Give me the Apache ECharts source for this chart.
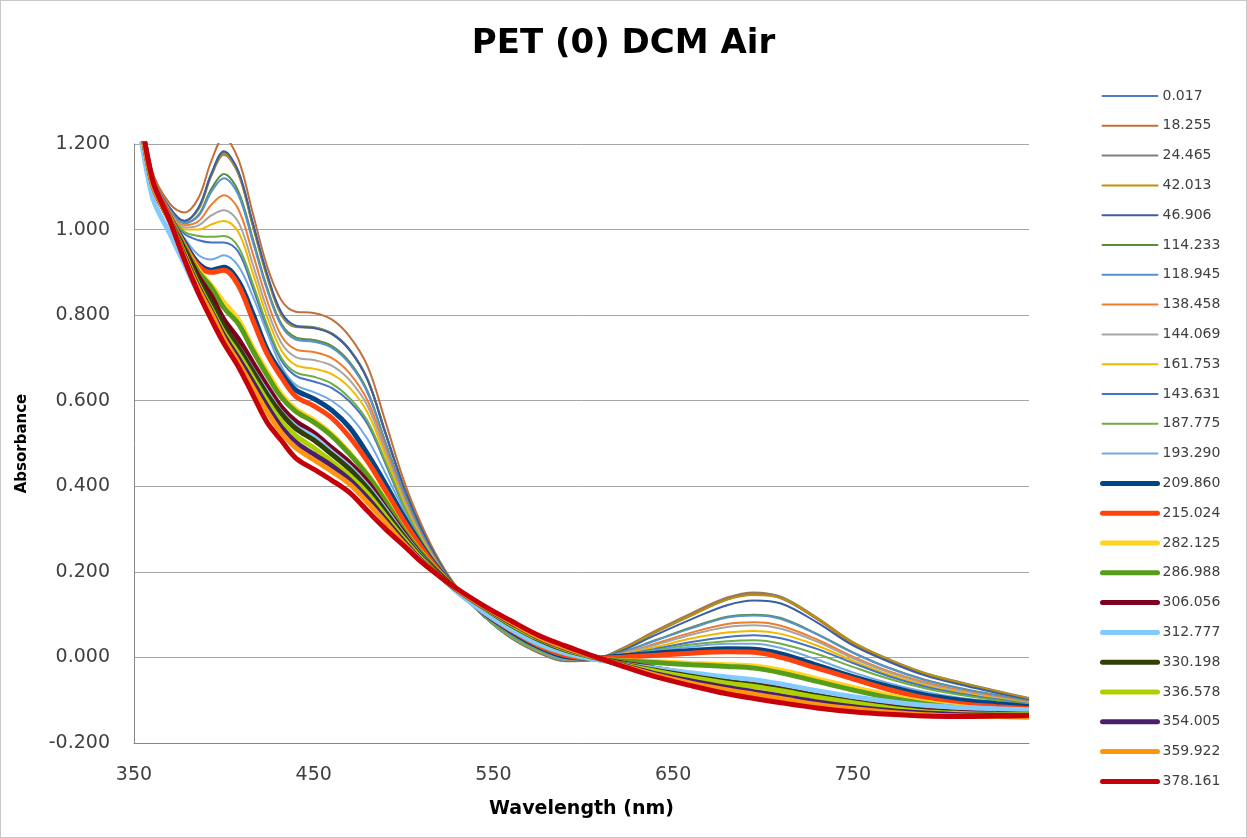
<!DOCTYPE html>
<html>
<head>
<meta charset="utf-8">
<script src="https://cdn.jsdelivr.net/npm/echarts@6/dist/echarts.min.js"></script>
<style>
  html, body { margin: 0; padding: 0; background: #fff; }
  #chart { width: 1247px; height: 838px; box-sizing: border-box; border: 1px solid #c8c8c8; }
</style>
</head>
<body>
<div id="chart"></div>
<script>
// wavelength grid (nm)
const wavelengths = [350, 360, 370, 378, 386, 393, 400, 408, 416, 424, 432, 440, 450, 460, 470, 480, 490, 500, 510, 520,
  530, 545, 560, 575, 590, 605, 620, 640, 660, 680, 695, 710, 730, 750, 770, 790, 810, 830, 848]

// absorbance per time (legend label)
const a0_017   = [1.40, 1.13, 1.05, 1.02, 1.05, 1.13, 1.18, 1.135, 1.015, 0.895, 0.805, 0.775, 0.772, 0.758, 0.72, 0.65, 0.525, 0.40, 0.30, 0.222, 0.16, 0.095, 0.045, 0.012, -0.008, -0.006, 0.016, 0.058, 0.098, 0.135, 0.148, 0.138, 0.09, 0.034, -0.006, -0.038, -0.06, -0.08, -0.098]
const a18_255  = [1.40, 1.14, 1.06, 1.04, 1.075, 1.16, 1.215, 1.165, 1.04, 0.915, 0.835, 0.808, 0.805, 0.79, 0.75, 0.68, 0.55, 0.415, 0.31, 0.226, 0.163, 0.098, 0.048, 0.013, -0.008, -0.006, 0.018, 0.062, 0.103, 0.14, 0.152, 0.14, 0.09, 0.032, -0.008, -0.04, -0.062, -0.08, -0.097]
const a24_465  = [1.40, 1.13, 1.05, 1.02, 1.048, 1.125, 1.175, 1.13, 1.01, 0.89, 0.80, 0.772, 0.77, 0.756, 0.718, 0.648, 0.522, 0.398, 0.298, 0.221, 0.16, 0.095, 0.045, 0.011, -0.009, -0.006, 0.017, 0.06, 0.10, 0.138, 0.15, 0.142, 0.093, 0.036, -0.004, -0.036, -0.058, -0.078, -0.095]
const a42_013  = [1.40, 1.13, 1.05, 1.02, 1.05, 1.128, 1.178, 1.133, 1.012, 0.892, 0.802, 0.774, 0.771, 0.757, 0.719, 0.65, 0.524, 0.40, 0.299, 0.221, 0.16, 0.095, 0.045, 0.012, -0.008, -0.006, 0.016, 0.059, 0.098, 0.135, 0.146, 0.139, 0.092, 0.035, -0.005, -0.037, -0.059, -0.079, -0.096]
const a46_906  = [1.40, 1.13, 1.05, 1.02, 1.052, 1.13, 1.183, 1.137, 1.017, 0.897, 0.806, 0.775, 0.77, 0.756, 0.718, 0.648, 0.523, 0.40, 0.30, 0.221, 0.16, 0.095, 0.046, 0.013, -0.007, -0.006, 0.013, 0.052, 0.089, 0.122, 0.133, 0.126, 0.082, 0.028, -0.01, -0.042, -0.064, -0.083, -0.10]
const a114_233 = [1.40, 1.13, 1.045, 1.015, 1.035, 1.095, 1.13, 1.09, 0.98, 0.865, 0.78, 0.748, 0.742, 0.728, 0.69, 0.622, 0.502, 0.385, 0.29, 0.216, 0.158, 0.095, 0.047, 0.014, -0.006, -0.005, 0.01, 0.04, 0.07, 0.095, 0.10, 0.092, 0.055, 0.012, -0.024, -0.052, -0.072, -0.088, -0.102]
const a118_945 = [1.40, 1.13, 1.045, 1.015, 1.032, 1.088, 1.12, 1.082, 0.973, 0.86, 0.775, 0.743, 0.738, 0.724, 0.686, 0.618, 0.50, 0.383, 0.289, 0.215, 0.158, 0.095, 0.047, 0.014, -0.006, -0.005, 0.01, 0.039, 0.068, 0.093, 0.098, 0.09, 0.054, 0.011, -0.025, -0.053, -0.073, -0.089, -0.103]
const a138_458 = [1.40, 1.13, 1.04, 1.01, 1.02, 1.058, 1.08, 1.048, 0.945, 0.835, 0.752, 0.72, 0.714, 0.70, 0.664, 0.60, 0.488, 0.375, 0.284, 0.213, 0.157, 0.096, 0.048, 0.015, -0.005, -0.004, 0.008, 0.032, 0.058, 0.078, 0.082, 0.074, 0.042, 0.002, -0.032, -0.058, -0.077, -0.092, -0.105]
const a144_069 = [1.40, 1.13, 1.04, 1.005, 1.01, 1.033, 1.045, 1.018, 0.92, 0.815, 0.735, 0.702, 0.695, 0.682, 0.648, 0.587, 0.48, 0.37, 0.281, 0.211, 0.157, 0.096, 0.048, 0.015, -0.005, -0.004, 0.007, 0.029, 0.053, 0.071, 0.075, 0.067, 0.037, -0.002, -0.035, -0.061, -0.079, -0.094, -0.106]
const a161_753 = [1.40, 1.13, 1.04, 1.00, 1.00, 1.012, 1.02, 0.995, 0.90, 0.797, 0.718, 0.683, 0.675, 0.662, 0.63, 0.572, 0.47, 0.363, 0.277, 0.21, 0.157, 0.097, 0.049, 0.016, -0.004, -0.004, 0.006, 0.024, 0.044, 0.058, 0.062, 0.055, 0.028, -0.008, -0.04, -0.065, -0.082, -0.096, -0.108]
const a143_631 = [1.39, 1.125, 1.035, 0.99, 0.975, 0.97, 0.97, 0.948, 0.865, 0.77, 0.694, 0.658, 0.645, 0.63, 0.598, 0.545, 0.452, 0.353, 0.271, 0.208, 0.156, 0.097, 0.05, 0.017, -0.004, -0.004, 0.005, 0.02, 0.036, 0.048, 0.052, 0.045, 0.02, -0.013, -0.044, -0.068, -0.085, -0.098, -0.109]
const a187_775 = [1.39, 1.125, 1.035, 0.995, 0.985, 0.983, 0.985, 0.96, 0.875, 0.778, 0.70, 0.666, 0.656, 0.64, 0.606, 0.552, 0.457, 0.356, 0.273, 0.208, 0.156, 0.097, 0.05, 0.017, -0.004, -0.004, 0.004, 0.017, 0.03, 0.038, 0.04, 0.032, 0.008, -0.022, -0.05, -0.072, -0.088, -0.10, -0.11]
const a193_290 = [1.39, 1.12, 1.03, 0.98, 0.94, 0.93, 0.94, 0.915, 0.845, 0.76, 0.68, 0.637, 0.62, 0.60, 0.565, 0.51, 0.43, 0.345, 0.267, 0.206, 0.155, 0.10, 0.055, 0.02, -0.003, -0.003, 0.004, 0.015, 0.025, 0.032, 0.032, 0.022, -0.005, -0.035, -0.06, -0.08, -0.095, -0.105, -0.112]
const a209_860 = [1.38, 1.12, 1.03, 0.97, 0.92, 0.905, 0.912, 0.88, 0.805, 0.72, 0.665, 0.625, 0.605, 0.578, 0.537, 0.475, 0.405, 0.33, 0.262, 0.204, 0.157, 0.103, 0.06, 0.025, 0.002, -0.002, 0.003, 0.01, 0.016, 0.02, 0.019, 0.008, -0.018, -0.045, -0.068, -0.088, -0.10, -0.108, -0.115]
const a215_024 = [1.38, 1.12, 1.03, 0.965, 0.915, 0.90, 0.905, 0.87, 0.79, 0.71, 0.655, 0.61, 0.588, 0.56, 0.515, 0.458, 0.39, 0.32, 0.257, 0.201, 0.157, 0.105, 0.063, 0.028, 0.005, -0.002, 0.0, 0.005, 0.01, 0.013, 0.012, 0.0, -0.025, -0.05, -0.075, -0.095, -0.108, -0.115, -0.12]
const a282_125 = [1.37, 1.11, 1.025, 0.962, 0.905, 0.87, 0.83, 0.79, 0.725, 0.668, 0.615, 0.58, 0.555, 0.522, 0.478, 0.428, 0.368, 0.30, 0.245, 0.198, 0.158, 0.11, 0.068, 0.032, 0.01, -0.003, -0.007, -0.01, -0.014, -0.017, -0.02, -0.03, -0.05, -0.07, -0.088, -0.104, -0.115, -0.122, -0.126]
const a286_988 = [1.37, 1.11, 1.025, 0.96, 0.90, 0.865, 0.817, 0.78, 0.718, 0.66, 0.608, 0.575, 0.55, 0.518, 0.475, 0.425, 0.365, 0.298, 0.243, 0.197, 0.158, 0.11, 0.068, 0.032, 0.01, -0.003, -0.008, -0.012, -0.017, -0.021, -0.025, -0.036, -0.056, -0.076, -0.094, -0.108, -0.118, -0.125, -0.128]
const a306_056 = [1.37, 1.11, 1.02, 0.955, 0.89, 0.845, 0.79, 0.745, 0.69, 0.635, 0.585, 0.552, 0.525, 0.49, 0.455, 0.41, 0.35, 0.292, 0.238, 0.195, 0.158, 0.113, 0.072, 0.038, 0.014, 0.0, -0.012, -0.025, -0.038, -0.05, -0.058, -0.068, -0.085, -0.10, -0.112, -0.122, -0.128, -0.13, -0.132]
const a312_777 = [1.33, 1.08, 0.99, 0.92, 0.85, 0.805, 0.765, 0.725, 0.672, 0.62, 0.572, 0.54, 0.515, 0.48, 0.445, 0.40, 0.345, 0.287, 0.235, 0.192, 0.152, 0.105, 0.065, 0.032, 0.01, -0.003, -0.014, -0.026, -0.036, -0.046, -0.052, -0.062, -0.078, -0.092, -0.103, -0.112, -0.117, -0.12, -0.122]
const a330_198 = [1.37, 1.11, 1.02, 0.95, 0.88, 0.83, 0.775, 0.725, 0.67, 0.615, 0.57, 0.535, 0.508, 0.475, 0.44, 0.395, 0.34, 0.284, 0.233, 0.192, 0.157, 0.115, 0.075, 0.042, 0.017, 0.001, -0.014, -0.03, -0.044, -0.057, -0.065, -0.075, -0.09, -0.104, -0.116, -0.125, -0.13, -0.132, -0.133]
const a336_578 = [1.37, 1.11, 1.02, 0.945, 0.87, 0.815, 0.76, 0.71, 0.655, 0.60, 0.552, 0.518, 0.49, 0.458, 0.425, 0.383, 0.33, 0.278, 0.23, 0.19, 0.157, 0.116, 0.077, 0.044, 0.019, 0.002, -0.015, -0.032, -0.047, -0.06, -0.068, -0.078, -0.093, -0.106, -0.118, -0.127, -0.131, -0.133, -0.134]
const a354_005 = [1.37, 1.11, 1.02, 0.94, 0.865, 0.81, 0.753, 0.70, 0.645, 0.588, 0.538, 0.503, 0.475, 0.448, 0.415, 0.372, 0.322, 0.272, 0.226, 0.19, 0.157, 0.117, 0.08, 0.046, 0.021, 0.003, -0.016, -0.038, -0.055, -0.07, -0.08, -0.09, -0.104, -0.115, -0.124, -0.13, -0.134, -0.135, -0.136]
const a359_922 = [1.37, 1.11, 1.02, 0.935, 0.86, 0.805, 0.745, 0.69, 0.632, 0.575, 0.525, 0.49, 0.462, 0.435, 0.405, 0.362, 0.315, 0.267, 0.224, 0.19, 0.158, 0.118, 0.082, 0.048, 0.023, 0.003, -0.017, -0.041, -0.06, -0.076, -0.086, -0.096, -0.11, -0.12, -0.128, -0.134, -0.137, -0.138, -0.14]
const a378_161 = [1.38, 1.12, 1.02, 0.93, 0.85, 0.79, 0.734, 0.68, 0.615, 0.55, 0.507, 0.466, 0.44, 0.414, 0.385, 0.342, 0.30, 0.262, 0.223, 0.19, 0.16, 0.12, 0.085, 0.052, 0.027, 0.004, -0.018, -0.045, -0.066, -0.085, -0.096, -0.106, -0.118, -0.127, -0.133, -0.137, -0.138, -0.137, -0.136]

const seriesNames = ['0.017', '18.255', '24.465', '42.013', '46.906', '114.233', '118.945', '138.458', '144.069', '161.753',
  '143.631', '187.775', '193.290', '209.860', '215.024', '282.125', '286.988', '306.056', '312.777', '330.198',
  '336.578', '354.005', '359.922', '378.161']
const seriesValues = [a0_017, a18_255, a24_465, a42_013, a46_906, a114_233, a118_945, a138_458, a144_069, a161_753,
  a143_631, a187_775, a193_290, a209_860, a215_024, a282_125, a286_988, a306_056, a312_777, a330_198,
  a336_578, a354_005, a359_922, a378_161]
const seriesColors = ['#4f7fba', '#c0703a', '#7f7f7f', '#bf9000', '#3a5fa6', '#5b8c3b', '#5592cf', '#ed7d31', '#a5a5a5', '#f2b800',
  '#4472c4', '#70ad47', '#72a9de', '#004586', '#ff420e', '#ffd320', '#579d1c', '#7e0021', '#83caff', '#314004',
  '#aecf00', '#4b1f6f', '#ff950e', '#c5000b']
const thinCount = 13

const font = 'DejaVu Sans'
const chart = echarts.init(document.getElementById('chart'))

const lineWidth = i => (i < thinCount ? 2 : 5)

chart.setOption({
  animation: false,
  title: {
    text: 'PET (0) DCM Air',
    left: 'center',
    top: 21,
    textStyle: { fontFamily: font, fontSize: 34, fontWeight: 'bold', color: '#000' }
  },
  legend: {
    orient: 'vertical',
    left: 1099,
    top: 88,
    padding: 0,
    itemWidth: 55,
    itemHeight: 14,
    itemGap: 15.8,
    itemStyle: { opacity: 0 },
    data: seriesNames.map((name, i) => ({
      name,
      lineStyle: { width: lineWidth(i), color: seriesColors[i], cap: 'round' }
    })),
    textStyle: { fontFamily: font, fontSize: 14, color: '#404040', lineHeight: 14 }
  },
  grid: { left: 133, top: 143, right: 217, bottom: 94, containLabel: false },
  xAxis: {
    type: 'value',
    min: 350,
    max: 848,
    interval: 100,
    name: 'Wavelength (nm)',
    nameLocation: 'middle',
    nameGap: 57,
    nameTextStyle: { fontFamily: font, fontSize: 19, fontWeight: 'bold', color: '#000' },
    axisLine: { onZero: false, lineStyle: { color: '#868686', width: 1 } },
    axisTick: { show: false },
    splitLine: { show: false },
    axisLabel: { showMaxLabel: false, margin: 23, fontFamily: font, fontSize: 19, color: '#404040' }
  },
  yAxis: {
    type: 'value',
    min: -0.2,
    max: 1.2,
    interval: 0.2,
    name: 'Absorbance',
    nameLocation: 'middle',
    nameGap: 104,
    nameTextStyle: { fontFamily: font, fontSize: 15, fontWeight: 'bold', color: '#000' },
    axisLine: { show: true, onZero: false, lineStyle: { color: '#868686', width: 1 } },
    axisTick: { show: false },
    splitLine: { lineStyle: { color: '#a6a6a6', width: 1 } },
    axisLabel: { margin: 24, fontFamily: font, fontSize: 19, color: '#404040', formatter: v => v.toFixed(3) }
  },
  series: seriesNames.map((name, i) => ({
    name,
    type: 'line',
    data: wavelengths.map((w, j) => [w, seriesValues[i][j]]),
    symbol: 'none',
    smooth: 0.35,
    color: seriesColors[i],
    lineStyle: { width: lineWidth(i), color: seriesColors[i] }
  }))
})
</script>
</body>
</html>
